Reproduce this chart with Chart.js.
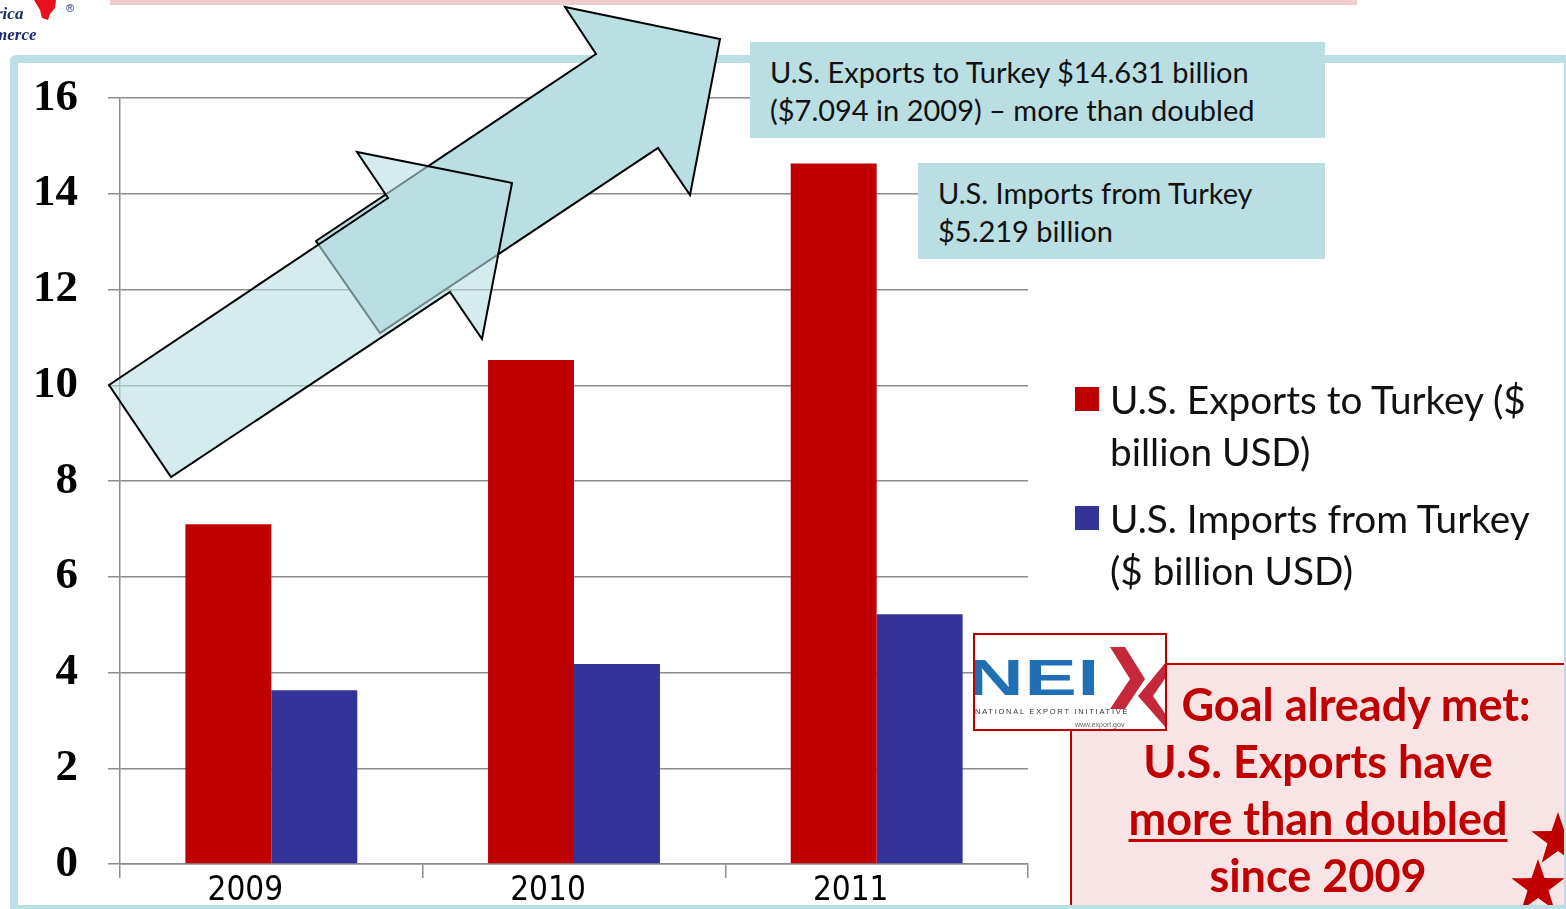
<!DOCTYPE html>
<html><head><meta charset="utf-8">
<script src="https://cdn.jsdelivr.net/npm/chart.js@4.4.0/dist/chart.umd.min.js"></script>
<style>
html,body{margin:0;padding:0;background:#fff;width:1566px;height:909px;overflow:hidden;position:relative;font-family:Lato,'Open Sans',sans-serif}
.abs{position:absolute}
#pinkbar{left:110px;top:0;width:1247px;height:5px;background:#F2CBCB;z-index:1}
#goal{left:1070px;top:663px;width:496px;height:260px;box-sizing:border-box;border:2px solid #C00000;background:#F8E4E4;z-index:1}
#stars{left:0;top:0;z-index:1}
#frame{left:10px;top:55px;width:1546px;height:842px;border:8px solid #BBE0E4;border-radius:6px;z-index:2}
#c{left:0;top:0;z-index:3}
#arrows{left:0;top:0;z-index:4}
.tbox{background:#B9DFE3;z-index:5;box-sizing:border-box;padding:11px 0 0 20px;font-size:29px;line-height:38px;color:#111;white-space:nowrap}
#legend{left:1075px;top:373px;z-index:5;font-size:38.7px;line-height:52px;color:#111}
.li{position:relative;padding-left:35px;margin-bottom:15px;white-space:nowrap}
.sw{position:absolute;left:0;top:14px;width:24px;height:24px}
#nei{left:973px;top:633px;width:194px;height:98px;box-sizing:border-box;border:2px solid #C00000;background:#fff;z-index:6;overflow:hidden}
.gl{z-index:6;color:#C00000;font-weight:bold;font-size:45px;line-height:57px;text-align:center;width:600px;white-space:nowrap}
#logo{left:0;top:0;z-index:5}
</style>
</head><body>
<div id="pinkbar" class="abs"></div>
<div id="goal" class="abs"></div>
<svg id="stars" class="abs" width="1566" height="909"></svg>
<div id="frame" class="abs"></div>
<canvas id="c" class="abs" width="1566" height="909"></canvas>
<svg id="arrows" class="abs" width="1566" height="909">
  <polygon points="316,241 596,54 565,7 720,39 690,195 658,148 380,333" fill="#B9DFE3" stroke="#000" stroke-width="2" stroke-linejoin="miter"/>
  <polygon points="109,385 388,198 357,152 512,183 482,339 450,292 171,477" fill="rgba(185,223,227,0.6)" stroke="#000" stroke-width="2"/>
</svg>
<svg id="logo" class="abs" width="110" height="50">
  <path d="M34,0 L56,0 L55,8 L50,14 L48,20 L42,18 L40,10 Z" fill="#E8101A"/>
  <text x="66" y="12" font-family="Liberation Sans" font-size="11" fill="#1A2A6C">®</text>
  <text x="-4" y="19" font-family="Liberation Serif" font-style="italic" font-weight="bold" font-size="17" fill="#1A2A6C">rica</text>
  <text x="-6" y="40" font-family="Liberation Serif" font-style="italic" font-weight="bold" font-size="17" fill="#1A2A6C">merce</text>
</svg>
<div class="abs tbox" style="left:750px;top:42px;width:575px;height:96px" id="tb1"></div>
<div class="abs tbox" style="left:918px;top:163px;width:407px;height:96px" id="tb2"></div>
<div id="legend" class="abs"></div>
<div id="nei" class="abs">
  <svg width="194" height="98">
    <text x="-5" y="60" font-family="Liberation Sans" font-weight="bold" font-size="49" fill="#1F6FB5" transform="scale(1.6,1)" letter-spacing="0.5">NEI</text>
    <polygon points="135,12 150,12 170,44 150,74 135,74 155,44" fill="#C4283A"/>
    <polygon points="191,27 191,42 178,61 191,80 191,93 163,61" fill="#C4283A"/>
    <text x="0" y="79" font-family="Liberation Sans" font-size="7.5" letter-spacing="1.75" fill="#333">NATIONAL EXPORT INITIATIVE</text>
    <text x="100" y="92" font-family="Liberation Sans" font-size="7" fill="#666">www.export.gov</text>
  </svg>
</div>
<div class="abs gl" style="left:1056px;top:676px">Goal already met:</div>
<div class="abs gl" style="left:1018px;top:733px">U.S. Exports have</div>
<div class="abs gl" style="left:1018px;top:790px"><span style="text-decoration:underline;text-decoration-thickness:3px;text-underline-offset:4px">more than doubled</span></div>
<div class="abs gl" style="left:1018px;top:847px">since 2009</div>
<script>
const categories = ['2009', '2010', '2011'];
const seriesNames = ['U.S. Exports to Turkey ($ billion USD)', 'U.S. Imports from Turkey ($ billion USD)'];
const legendLines = [['U.S. Exports to Turkey ($', 'billion USD)'], ['U.S. Imports from Turkey', '($ billion USD)']];
const exportsValues = [7.094, 10.53, 14.631];
const importsValues = [3.63, 4.18, 5.219];
const yTicks = [0, 2, 4, 6, 8, 10, 12, 14, 16];
const seriesColors = ['#C00000', '#333399'];
const note1 = ['U.S. Exports to Turkey $14.631 billion', '($7.094 in 2009) \u2013 more than doubled'];
const note2 = ['U.S. Imports from Turkey', '$5.219 billion'];

document.getElementById('tb1').innerHTML = note1.join('<br>');
document.getElementById('tb2').innerHTML = note2.join('<br>');
document.getElementById('legend').innerHTML = legendLines.map((l, i) =>
  '<div class="li"><span class="sw" style="background:' + seriesColors[i] + '"></span>' + l.join('<br>') + '</div>').join('');

function star(cx, cy, R, r) {
  const p = [];
  for (let i = 0; i < 10; i++) {
    const a = -Math.PI / 2 + i * Math.PI / 5;
    const rr = i % 2 ? r : R;
    p.push((cx + rr * Math.cos(a)).toFixed(1) + ',' + (cy + rr * Math.sin(a)).toFixed(1));
  }
  return '<polygon points="' + p.join(' ') + '" fill="#C00000"/>';
}
document.getElementById('stars').innerHTML = star(1558, 840, 28, 11) + star(1538, 887, 28, 11);

new Chart(document.getElementById('c'), {
  type: 'bar',
  data: {
    labels: categories,
    datasets: [
      { label: seriesNames[0], data: exportsValues, backgroundColor: seriesColors[0], borderWidth: 0 },
      { label: seriesNames[1], data: importsValues, backgroundColor: seriesColors[1], borderWidth: 0 }
    ]
  },
  options: {
    responsive: false,
    animation: false,
    layout: { padding: { left: 0, right: 538, top: 98, bottom: 0 } },
    plugins: { legend: { display: false }, tooltip: { enabled: false } },
    datasets: { bar: { categoryPercentage: 0.568, barPercentage: 1 } },
    scales: {
      x: {
        grid: { display: true, drawOnChartArea: false, drawTicks: true, tickLength: 14, color: '#8C8C8C', lineWidth: 1.5, offset: true },
        border: { display: true, color: '#8C8C8C', width: 1.5 },
        ticks: { font: { family: "'DejaVu Sans Condensed', 'DejaVu Sans', sans-serif", size: 33 }, color: '#000', padding: -6, labelOffset: -26 },
        afterFit: s => { s.height = 45; s.paddingLeft = 0; s.paddingRight = 0; }
      },
      y: {
        min: 0, max: 16,
        afterBuildTicks: s => { s.ticks = yTicks.map(v => ({ value: v })); },
        grid: { color: '#8C8C8C', lineWidth: 1.5, tickLength: 12 },
        border: { color: '#8C8C8C', width: 1.5 },
        ticks: { font: { family: 'Liberation Serif', size: 45, weight: 'bold' }, color: '#000', padding: 30 },
        afterFit: s => { s.width = 120; s.paddingTop = 0; s.paddingBottom = 0; }
      }
    }
  }
});
</script>
</body></html>
